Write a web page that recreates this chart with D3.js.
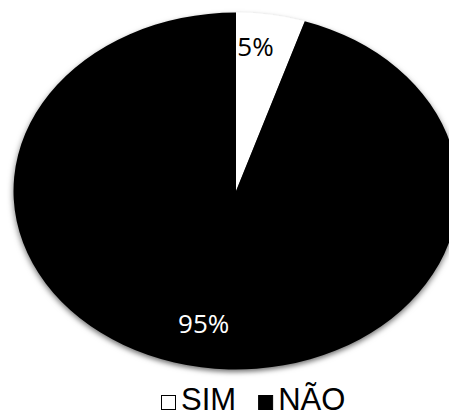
<!DOCTYPE html>
<html>
<head>
<meta charset="utf-8">
<script src="https://cdn.jsdelivr.net/npm/d3@7"></script>
<style>
  html, body { margin: 0; padding: 0; background: #fff; }
  svg { display: block; }
</style>
</head>
<body>
<svg id="chart" width="449" height="417"></svg>
<script>
// Answers to the survey question
const categories = ["SIM", "NÃO"];
const values = [5, 95];
const labels = ["5%", "95%"];
const fills = ["#ffffff", "#000000"];

const W = 449, H = 417;
const cx = 236, cy = 191;       // pie centre
const rx = 222.5, ry = 178.5;   // the pie is stretched horizontally into an ellipse

const svg = d3.select("#chart");

// soft drop shadow under the pie
const defs = svg.append("defs");
const f = defs.append("filter").attr("id", "shadow")
  .attr("x", "-10%").attr("y", "-10%").attr("width", "120%").attr("height", "120%");
f.append("feDropShadow")
  .attr("dx", 0).attr("dy", 2.5)
  .attr("stdDeviation", 2.5)
  .attr("flood-color", "#000")
  .attr("flood-opacity", 0.55);

const pie = d3.pie().sort(null).value(d => d)
  .startAngle(0).endAngle(2 * Math.PI);
const arcs = pie(values);

const arc = d3.arc().innerRadius(0).outerRadius(ry);

const g = svg.append("g")
  .attr("transform", `translate(${cx},${cy}) scale(${rx / ry},1)`)
  .attr("filter", "url(#shadow)");

g.selectAll("path")
  .data(arcs)
  .join("path")
  .attr("d", arc)
  .attr("fill", (d, i) => fills[i]);

// percentage labels, placed along each slice's middle angle with a small best-fit nudge
const labelR = [0.82, 0.755];
const labelNudgeX = [-9, -6];
const labelColor = ["#000000", "#ffffff"];
svg.append("g").selectAll("text")
  .data(arcs)
  .join("text")
  .attr("x", (d, i) => cx + Math.sin((d.startAngle + d.endAngle) / 2) * rx * labelR[i] + labelNudgeX[i])
  .attr("y", (d, i) => cy - Math.cos((d.startAngle + d.endAngle) / 2) * ry * labelR[i])
  .attr("dy", "0.36em")
  .attr("text-anchor", "middle")
  .attr("font-family", "'Open Sans', sans-serif")
  .attr("font-size", 26)
  .attr("fill", (d, i) => labelColor[i])
  .text((d, i) => labels[i]);

// legend
const legend = svg.append("g")
  .attr("font-family", "'Liberation Sans', Arial, sans-serif")
  .attr("font-size", 31);
const box = 15, gapBox = 5, gapItem = 22, baseY = 410;
let x = 161;
categories.forEach((c, i) => {
  legend.append("rect")
    .attr("x", x + 0.5).attr("y", baseY - box + 0.5)
    .attr("width", box - 1).attr("height", box - 1)
    .attr("fill", fills[i])
    .attr("stroke", "#000").attr("stroke-width", 1);
  const t = legend.append("text")
    .attr("x", x + box + gapBox)
    .attr("y", baseY)
    .attr("fill", "#000")
    .text(c);
  x += box + gapBox + t.node().getComputedTextLength() + gapItem;
});
</script>
</body>
</html>
